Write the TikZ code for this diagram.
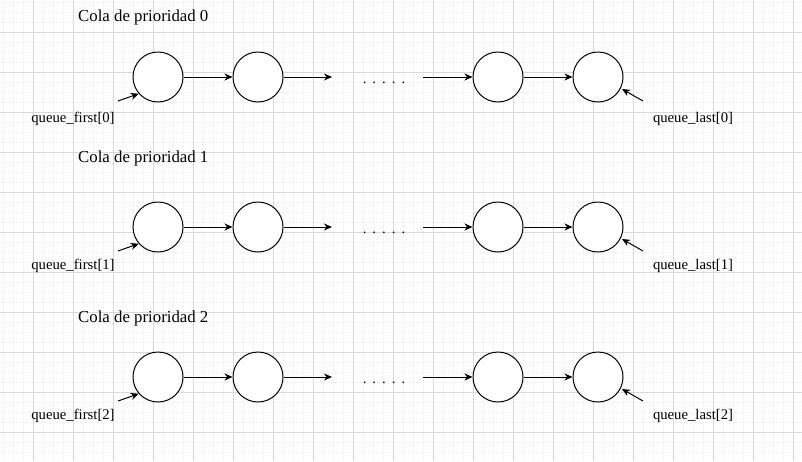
\documentclass[tikz,border=0pt]{standalone}
\usepackage{fontspec}
\setmainfont{Liberation Serif}
\usetikzlibrary{arrows.meta}

\tikzset{
  elem/.style={circle, draw=black, fill=white, line width=1pt, minimum size=50pt, inner sep=0pt},
  link/.style={line width=1pt, -{Stealth[length=8pt, width=7pt, inset=2.5pt]}},
  title/.style={font=\fontsize{16.8}{19}\selectfont, inner sep=0pt, anchor=west},
  ptrlabel/.style={font=\fontsize{14.7}{17}\selectfont, inner sep=0pt},
  dots/.style={font=\fontsize{14.7}{17}\selectfont, inner sep=0pt, anchor=base},
  minorgrid/.style={draw=black!4, line width=0.6pt},
  majorgrid/.style={draw=black!15, line width=0.8pt}
}

\begin{document}
\begin{tikzpicture}[x=1pt, y=-1pt]
  % canvas and background grid
  \useasboundingbox (0,0) rectangle (802,461);
  \fill[white] (0,0) rectangle (802,461);
  \foreach \gx in {3,13,...,793} \draw[minorgrid] (\gx,0) -- (\gx,461);
  \foreach \gy in {2.5,12.5,...,452.5} \draw[minorgrid] (0,\gy) -- (802,\gy);
  \foreach \gx in {33,73,...,793} \draw[majorgrid] (\gx,0) -- (\gx,461);
  \foreach \gy in {32.5,72.5,...,452.5} \draw[majorgrid] (0,\gy) -- (802,\gy);

  % one priority queue per row
  \foreach \r/\ty/\ly in {0/17/119, 1/158/266, 2/318/416} {
    \pgfmathsetmacro{\cy}{77+150*\r}
    \node[title] (t\r) at (78,\ty) {Cola de prioridad \r};

    \node[elem] (a\r) at (158,\cy) {};
    \node[elem] (b\r) at (258,\cy) {};
    \node[elem] (c\r) at (498,\cy) {};
    \node[elem] (d\r) at (598,\cy) {};

    \coordinate (bo\r) at (332,\cy);
    \coordinate (ci\r) at (423,\cy);
    \node[dots] (m\r) at (384,\cy+6) {{\spaceskip=4.8pt . . . . .}};

    \draw[link] (a\r) -- (b\r);
    \draw[link] (b\r) -- (bo\r);
    \draw[link] (ci\r) -- (c\r);
    \draw[link] (c\r) -- (d\r);

    \node[ptrlabel] (f\r) at (73,\ly) {queue\_first[\r]};
    \node[ptrlabel] (l\r) at (693,\ly) {queue\_last[\r]};
    \coordinate (fs\r) at (118,\cy+24);
    \coordinate (ls\r) at (643,\cy+24);
    \draw[link] (fs\r) -- (a\r.221);
    \draw[link] (ls\r) -- (622,\cy+12);
  }
\end{tikzpicture}
\end{document}
